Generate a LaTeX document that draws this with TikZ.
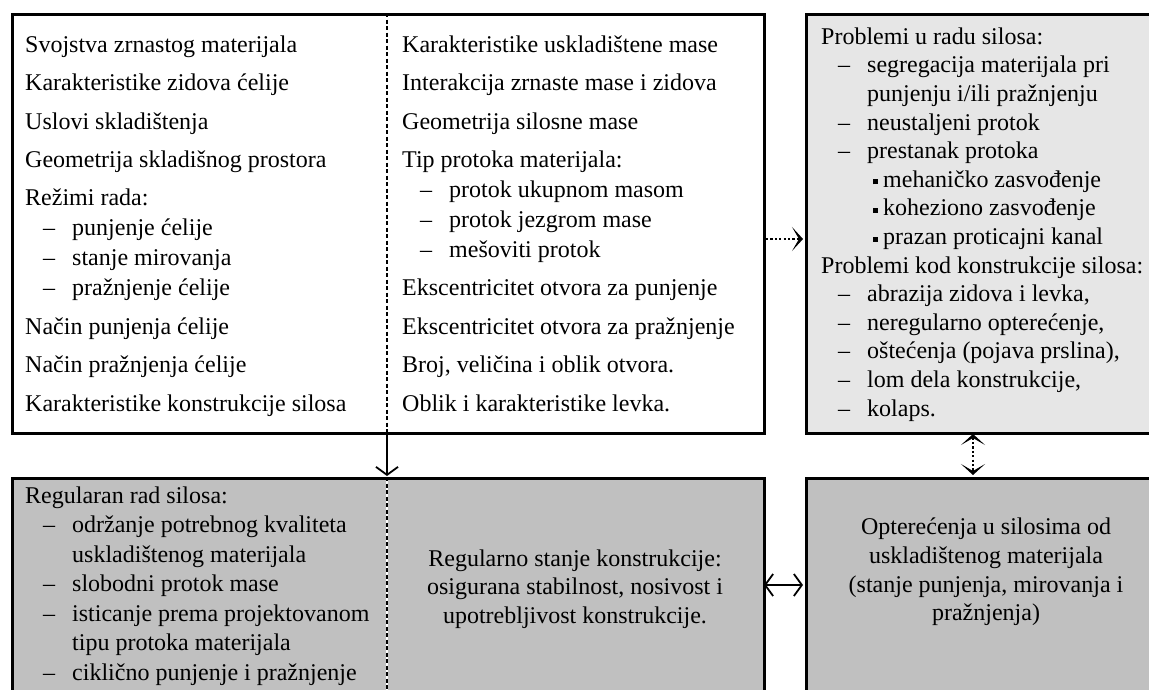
\documentclass[tikz,border=0pt]{standalone}
\usepackage{fontspec}
\setmainfont{Liberation Serif}
\usetikzlibrary{arrows.meta}
\definecolor{lightbox}{RGB}{230,230,230}
\definecolor{darkbox}{RGB}{192,192,192}
\newcommand\dsh{\makebox[29pt][l]{–}}
\newcommand\bul{\raisebox{3pt}{\rule{5pt}{5pt}}\hspace{5pt}}
\begin{document}
\begin{tikzpicture}[x=1pt,y=-1pt,
  box/.style={draw, line width=2.5pt, inner sep=0pt, anchor=north west},
  txt/.style={anchor=mid west, inner sep=0pt, font=\fontsize{24}{28.5}\selectfont},
  ctxt/.style={anchor=center, inner sep=0pt, align=center, font=\fontsize{24}{28.6}\selectfont},
  divider/.style={line width=1.6pt, dash pattern=on 4pt off 2.5pt},
  barb/.tip={Straight Barb[length=8pt,width=22pt,line width=1.8pt]},
  chev/.tip={Stealth[length=11pt,width=24pt,inset=7pt]},
  solidarrow/.style={line width=1.8pt, barb-barb},
  downarrow/.style={line width=1.8pt, -barb},
  dotarrow/.style={line width=2.5pt, dash pattern=on 2.2pt off 2.2pt, -chev},
  dotdarrow/.style={line width=2.5pt, dash pattern=on 2.2pt off 2.2pt, chev-chev},
]
\useasboundingbox (0,0) rectangle (1149,689);
\clip (0,0) rectangle (1149,689);

% boxes
\node[box, fill=white, minimum width=752pt, minimum height=419pt] (tl) at (11,13) {};
\node[box, fill=lightbox, minimum width=362pt, minimum height=419pt] (tr) at (805,13) {};
\node[box, fill=darkbox, minimum width=752pt, minimum height=230pt] (bl) at (11,477) {};
\node[box, fill=darkbox, minimum width=362pt, minimum height=230pt] (br) at (805,477) {};

% dividers
\coordinate (dA) at (387,13);
\coordinate (dB) at (387,432);
\coordinate (dC) at (387,477);
\coordinate (dD) at (387,700);
\draw[divider] (dA) -- (dB);
\draw[line width=1.6pt, white] (dC) -- (dD);
\draw[divider] (dC) -- (dD);

% left column
\node[txt] (l1) at (25,50) {Svojstva zrnastog materijala};
\node[txt] (l2) at (25,88.4) {Karakteristike zidova ćelije};
\node[txt] (l3) at (25,126.8) {Uslovi skladištenja};
\node[txt] (l4) at (25,165.2) {Geometrija skladišnog prostora};
\node[txt] (l5) at (25,203.6) {Režimi rada:};
\node[txt] (l6) at (43,233.6) {\dsh punjenje ćelije};
\node[txt] (l7) at (43,263.6) {\dsh stanje mirovanja};
\node[txt] (l8) at (43,293.6) {\dsh pražnjenje ćelije};
\node[txt] (l9) at (25,332) {Način punjenja ćelije};
\node[txt] (l10) at (25,370.4) {Način pražnjenja ćelije};
\node[txt] (l11) at (25,408.8) {Karakteristike konstrukcije silosa};

% middle column
\node[txt] (m1) at (402,50) {Karakteristike uskladištene mase};
\node[txt] (m2) at (402,88.4) {Interakcija zrnaste mase i zidova};
\node[txt] (m3) at (402,126.8) {Geometrija silosne mase};
\node[txt] (m4) at (402,165.2) {Tip protoka materijala:};
\node[txt] (m5) at (420,195.2) {\dsh protok ukupnom masom};
\node[txt] (m6) at (420,225.2) {\dsh protok jezgrom mase};
\node[txt] (m7) at (420,255.2) {\dsh mešoviti protok};
\node[txt] (m8) at (402,293.6) {Ekscentricitet otvora za punjenje};
\node[txt] (m9) at (402,332) {Ekscentricitet otvora za pražnjenje};
\node[txt] (m10) at (402,370.4) {Broj, veličina i oblik otvora.};
\node[txt] (m11) at (402,408.8) {Oblik i karakteristike levka.};

% right column
\node[txt] (r1) at (821,42) {Problemi u radu silosa:};
\node[txt] (r2) at (838,70.6) {\dsh segregacija materijala pri};
\node[txt] (r3) at (867,99.2) {punjenju i/ili pražnjenju};
\node[txt] (r4) at (838,127.8) {\dsh neustaljeni protok};
\node[txt] (r5) at (838,156.4) {\dsh prestanak protoka};
\node[txt] (r6) at (873,185) {\bul mehaničko zasvođenje};
\node[txt] (r7) at (873,213.6) {\bul koheziono zasvođenje};
\node[txt] (r8) at (873,242.2) {\bul prazan proticajni kanal};
\node[txt] (r9) at (821,270.8) {Problemi kod konstrukcije silosa:};
\node[txt] (r10) at (838,299.4) {\dsh abrazija zidova i levka,};
\node[txt] (r11) at (838,328) {\dsh neregularno opterećenje,};
\node[txt] (r12) at (838,356.6) {\dsh oštećenja (pojava prslina),};
\node[txt] (r13) at (838,385.2) {\dsh lom dela konstrukcije,};
\node[txt] (r14) at (838,413.8) {\dsh kolaps.};

% bottom left
\node[txt] (b1) at (25,501) {Regularan rad silosa:};
\node[txt] (b2) at (43,530.5) {\dsh održanje potrebnog kvaliteta};
\node[txt] (b3) at (72,560) {uskladištenog materijala};
\node[txt] (b4) at (43,589.5) {\dsh slobodni protok mase};
\node[txt] (b5) at (43,619) {\dsh isticanje prema projektovanom};
\node[txt] (b6) at (72,648.5) {tipu protoka materijala};
\node[txt] (b7) at (43,678) {\dsh ciklično punjenje i pražnjenje};

% bottom middle
\node[ctxt] (bm) at (575,589) {Regularno stanje konstrukcije:\\osigurana stabilnost, nosivost i\\upotrebljivost konstrukcije.};

% bottom right
\node[ctxt] (bri) at (986,572) {Opterećenja u silosima od\\uskladištenog materijala\\(stanje punjenja, mirovanja i\\pražnjenja)};

% connectors
\coordinate (a1s) at (766,239);
\coordinate (a1e) at (803,239);
\draw[dotarrow] (a1s) -- (a1e);
\draw[downarrow] (dB) -- ([yshift=1pt]dC);
\coordinate (a3s) at (764,585);
\coordinate (a3e) at (803,585);
\draw[solidarrow] (a3s) -- (a3e);
\coordinate (a4s) at (973,434);
\coordinate (a4e) at (973,475);
\draw[dotdarrow] (a4s) -- (a4e);
\end{tikzpicture}
\end{document}
